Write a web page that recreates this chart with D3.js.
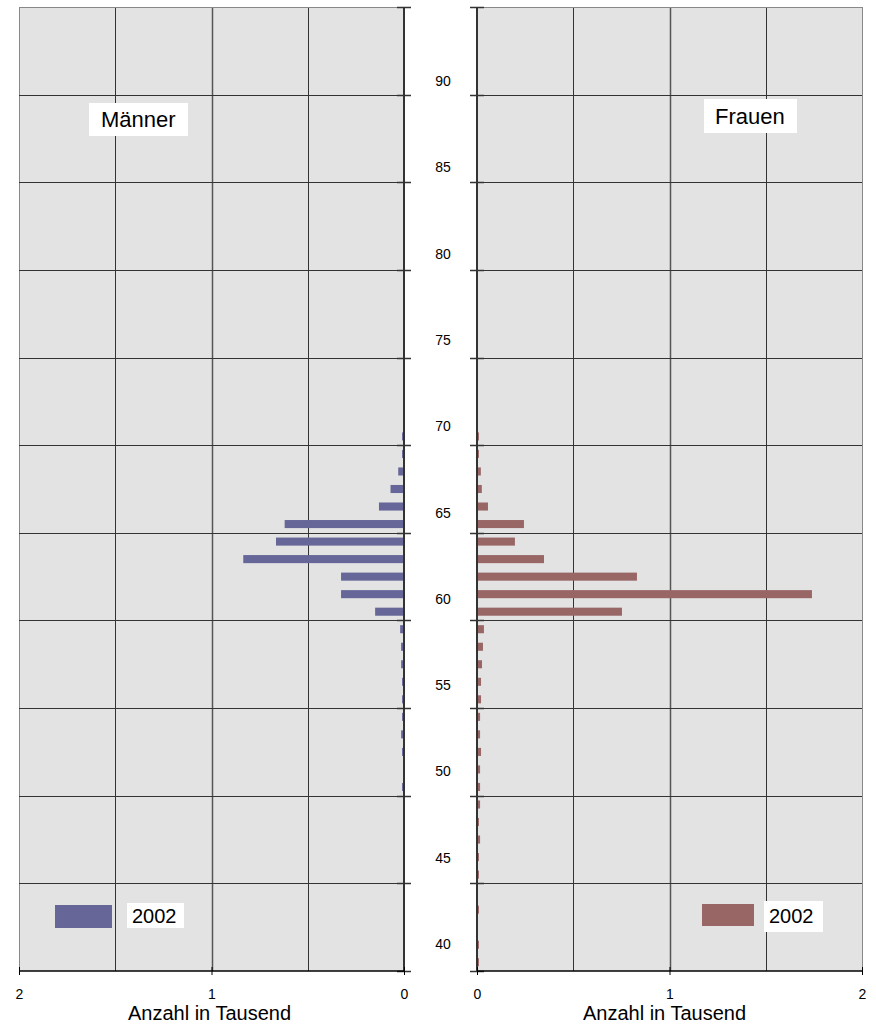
<!DOCTYPE html>
<html><head><meta charset="utf-8">
<script src="https://cdn.jsdelivr.net/npm/d3@7"></script>
<style>body{margin:0;background:#fff}svg{display:block;font-family:"Liberation Sans",Arial,sans-serif}</style>
</head><body><svg id="c" width="876" height="1028"></svg>
<script>
// Ages 39..93 (one bar per year)
const ages = d3.range(39, 94);
// Männer, Anzahl in Tausend, by age starting at 39
const menValues = [0,0,0,0.004,0,0,0,0,0,0,0.01,0.003,0.01,0.015,0.01,0.01,0.01,0.015,0.015,0.02,0.15,0.327,0.327,0.835,0.665,0.62,0.13,0.07,0.03,0.01,0.01,0,0,0,0,0,0,0,0,0,0,0,0,0,0,0,0,0,0,0,0,0,0,0,0];
// Frauen, Anzahl in Tausend, by age starting at 39
const womenValues = [0.01,0.01,0,0.01,0,0.01,0.01,0.016,0.01,0.016,0.016,0.016,0.021,0.016,0.016,0.021,0.021,0.026,0.031,0.036,0.753,1.74,0.831,0.348,0.197,0.244,0.057,0.025,0.02,0.01,0.01,0,0,0,0,0,0,0,0,0,0,0,0,0,0,0,0,0,0,0,0,0,0,0,0];
const ageTickLabels = [40,45,50,55,60,65,70,75,80,85,90];
const xTickValues = [0,1,2];
const gridValues = [0.5,1,1.5,2];
const legendLabel = "2002";
const titleMen = "Männer", titleWomen = "Frauen";
const axisTitle = "Anzahl in Tausend";

const svg = d3.select("#c");
const yTop = 7, yBottom = 971;
const menColor = "#666699", womenColor = "#996666";

const y = d3.scaleBand().domain(ages.slice().reverse()).range([yTop, yBottom]).paddingInner(0.54).paddingOuter(0.27);
const yIdx = d3.scaleLinear().domain([0, ages.length]).range([yBottom, yTop]);
const yLab = d3.scaleLinear().domain([40, 90]).range([944, 81]);
const xM = d3.scaleLinear().domain([0, 2]).range([404, 19]);
const xW = d3.scaleLinear().domain([0, 2]).range([477, 862]);

const hLines = d3.range(0, ages.length + 1, 5);

function panel(x, vals, color, titleShift) {
  const g = svg.append("g");
  g.append("rect").attr("x", Math.min(x(0), x(2))).attr("y", yTop)
    .attr("width", Math.abs(x(2) - x(0))).attr("height", yBottom - yTop).attr("fill", "#e3e3e3");
  g.selectAll(".vg").data(gridValues).join("line")
    .attr("x1", d => Math.round(x(d)) + 0.5).attr("x2", d => Math.round(x(d)) + 0.5)
    .attr("y1", yTop).attr("y2", yBottom)
    .attr("stroke", d => d === 2 ? "#888" : (d === 1 ? "#555" : "#333")).attr("stroke-width", d => d === 1 ? 1.5 : 1);
  g.selectAll(".hg").data(hLines.filter(k => k > 0)).join("line")
    .attr("x1", x(0)).attr("x2", x(2))
    .attr("y1", d => Math.round(yIdx(d)) + 0.5).attr("y2", d => Math.round(yIdx(d)) + 0.5)
    .attr("stroke", d => d === ages.length ? "#888" : "#333").attr("stroke-width", 1);
  g.selectAll(".bar").data(ages.map((a, i) => ({a, v: vals[i]})).filter(d => d.v > 0)).join("rect")
    .attr("x", d => Math.min(x(0), x(d.v))).attr("width", d => Math.max(1, Math.abs(x(d.v) - x(0))))
    .attr("y", d => y(d.a)).attr("height", y.bandwidth()).attr("fill", color);
  g.append("line").attr("x1", x(0)).attr("x2", x(0)).attr("y1", yTop).attr("y2", yBottom)
    .attr("stroke", "#333").attr("stroke-width", 2);
  g.selectAll(".at").data(hLines).join("line")
    .attr("x1", x(0) - 7).attr("x2", x(0) + 7)
    .attr("y1", d => Math.round(yIdx(d)) + 0.5).attr("y2", d => Math.round(yIdx(d)) + 0.5)
    .attr("stroke", "#333").attr("stroke-width", 1.5);
  const axis = d3.axisBottom(x).tickValues(xTickValues).tickFormat(d3.format("d")).tickSize(4).tickPadding(14);
  const ag = g.append("g").attr("transform", `translate(0,${yBottom})`).call(axis);
  ag.select(".domain").attr("stroke", "#000").attr("stroke-width", 1.5).attr("d", `M${Math.min(x(0),x(2))},0H${Math.max(x(0),x(2))}`);
  ag.selectAll(".tick line").attr("y1", -4).attr("stroke", "#000");
  ag.selectAll("text").attr("font-size", 14).attr("fill", "#000").attr("font-family", "Liberation Sans, Arial, sans-serif");
  g.append("text").attr("x", (x(0) + x(2)) / 2 + titleShift).attr("y", 1020)
    .attr("text-anchor", "middle").attr("font-size", 20).attr("fill", "#000").text(axisTitle);
}
panel(xM, menValues, menColor, -2);
panel(xW, womenValues, womenColor, -5);

svg.append("g").selectAll("text").data(ageTickLabels).join("text")
  .attr("x", 443).attr("y", d => yLab(d) + 5).attr("text-anchor", "middle")
  .attr("font-size", 14).attr("fill", "#000").text(d => d);

function boxText(bx, by, bw, bh, tx, ty, size, txt) {
  svg.append("rect").attr("x", bx).attr("y", by).attr("width", bw).attr("height", bh).attr("fill", "#fff");
  svg.append("text").attr("x", tx).attr("y", ty).attr("font-size", size).attr("fill", "#000").text(txt);
}
boxText(89, 103, 99, 33, 101, 127, 22, titleMen);
boxText(704, 99, 93, 34, 715, 124, 22, titleWomen);

svg.append("rect").attr("x", 55).attr("y", 905).attr("width", 57).attr("height", 23).attr("fill", menColor);
boxText(127, 903, 57, 25, 132, 923, 20, legendLabel);
svg.append("rect").attr("x", 702).attr("y", 904).attr("width", 52).attr("height", 22).attr("fill", womenColor);
boxText(764, 901, 59, 31, 769, 923, 20, legendLabel);
</script></body></html>
